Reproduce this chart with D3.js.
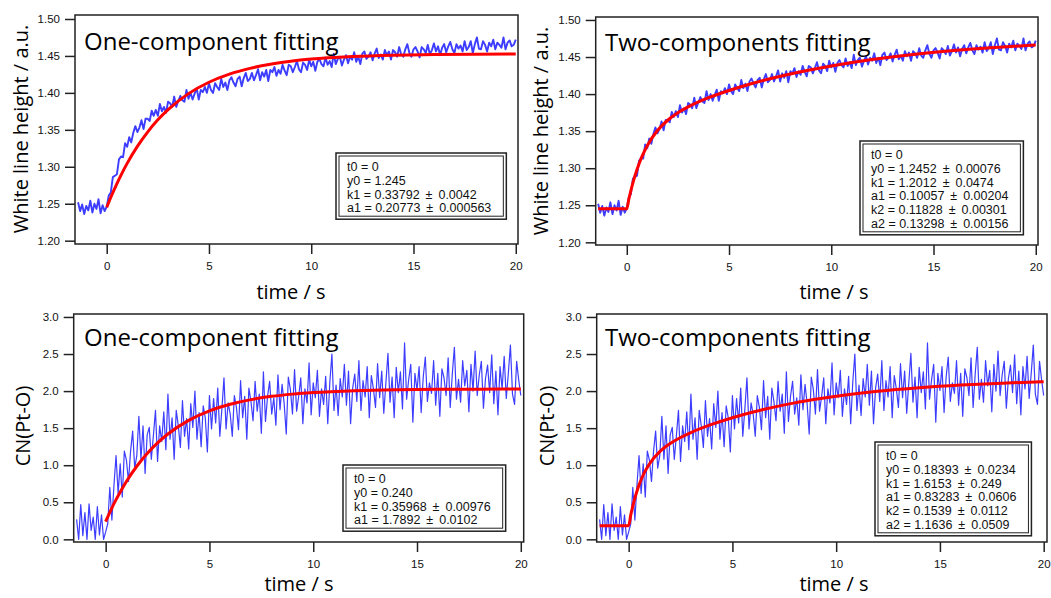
<!DOCTYPE html>
<html>
<head>
<meta charset="utf-8">
<script src="https://cdn.jsdelivr.net/npm/d3@7"></script>
<style>
  body { margin: 0; background: #fff; }
  svg text { font-family: "Liberation Sans", Arial, sans-serif; }
</style>
</head>
<body>
<div id="chart"></div>
<script>
// sampling of the measured traces
const timeStart = -1.4, timeStep = 0.1;

// white line height (a.u.), t = -1.4 ... 20 s
const whiteLine = [
  1.252,1.240,1.249,1.236,1.247,1.241,1.254,1.238,1.250,1.243,1.256,1.237,1.248,1.240,1.246,
  1.261,1.265,1.286,1.288,1.290,1.310,1.314,1.313,1.332,1.327,
  1.340,1.333,1.346,1.355,1.347,1.353,1.363,1.351,1.365,1.365,
  1.362,1.376,1.369,1.377,1.369,1.385,1.375,1.381,1.373,1.388,
  1.386,1.381,1.395,1.381,1.389,1.396,1.390,1.388,1.404,1.392,
  1.400,1.391,1.399,1.406,1.391,1.404,1.401,1.408,1.400,1.413,
  1.404,1.400,1.413,1.408,1.404,1.419,1.408,1.414,1.404,1.417,
  1.421,1.414,1.409,1.419,1.422,1.409,1.420,1.427,1.416,1.419,
  1.427,1.417,1.424,1.432,1.417,1.428,1.422,1.431,1.416,1.431,
  1.428,1.435,1.423,1.431,1.426,1.438,1.430,1.424,1.438,1.436,
  1.428,1.435,1.443,1.432,1.428,1.441,1.438,1.431,1.445,1.436,
  1.442,1.430,1.442,1.446,1.439,1.436,1.448,1.438,1.443,1.435,
  1.453,1.439,1.446,1.449,1.437,1.445,1.451,1.440,1.449,1.445,
  1.455,1.442,1.449,1.439,1.453,1.456,1.446,1.449,1.455,1.444,
  1.453,1.460,1.447,1.452,1.445,1.458,1.451,1.456,1.445,1.458,
  1.455,1.449,1.462,1.452,1.449,1.459,1.466,1.454,1.449,1.459,
  1.462,1.456,1.448,1.462,1.459,1.454,1.465,1.452,1.458,1.467,
  1.456,1.463,1.451,1.461,1.466,1.455,1.463,1.469,1.459,1.454,
  1.466,1.460,1.464,1.456,1.470,1.458,1.462,1.470,1.454,1.466,
  1.475,1.460,1.459,1.470,1.465,1.456,1.468,1.463,1.472,1.459,
  1.468,1.465,1.461,1.475,1.459,1.468,1.471,1.463,1.465,1.472
];

// CN(Pt-O), t = -1.4 ... 20 s
const cnPtO = [
  0.27,0.00,0.47,0.05,0.36,0.00,0.48,0.12,0.30,0.00,0.44,0.06,0.33,0.00,0.10,
  0.21,0.70,0.26,0.73,1.13,0.62,1.02,0.57,1.19,1.07,
  0.78,1.19,1.46,0.96,1.13,1.66,1.08,1.53,0.89,1.41,
  1.51,1.08,1.40,1.74,1.05,1.53,1.32,1.72,1.21,1.96,
  1.35,1.64,1.08,1.74,1.53,1.24,1.87,1.39,1.63,1.22,
  1.83,1.51,2.00,1.35,1.71,1.25,1.80,1.64,1.18,1.94,
  1.49,1.90,1.57,2.04,1.39,1.76,2.18,1.49,1.84,1.69,
  1.39,1.94,1.78,1.48,2.14,1.64,1.93,1.35,2.04,1.86,
  1.60,2.13,1.73,1.96,1.43,2.26,1.59,1.93,2.13,1.69,
  1.91,1.54,2.22,1.75,2.09,1.83,1.42,2.19,2.02,1.69,
  2.29,1.73,1.93,2.18,1.56,2.03,1.84,2.38,1.68,2.11,
  1.91,2.28,1.66,2.03,1.82,2.20,1.56,2.12,2.50,1.74,
  2.08,1.67,2.17,1.92,2.36,1.81,2.27,1.56,2.04,2.23,
  1.86,2.41,1.74,2.14,1.92,2.33,1.64,2.21,2.03,1.78,
  2.37,1.91,2.27,1.70,2.11,2.51,1.85,2.19,1.64,2.32,
  1.98,2.26,1.76,2.65,1.89,2.16,2.36,1.58,2.24,2.01,
  2.33,1.71,2.19,2.46,1.86,2.11,1.97,2.41,1.81,2.24,
  1.66,2.30,2.18,1.94,2.45,1.78,2.23,2.59,1.89,2.16,
  1.85,2.41,2.07,2.28,1.72,2.36,2.00,2.54,1.94,2.22,
  2.40,1.77,2.17,2.35,1.98,2.49,1.83,2.27,1.68,2.33,
  2.03,2.47,1.90,2.24,2.62,1.96,1.82,2.40,2.15,1.94
];

// fitted curves
const fitTime1 = [0,0.25,0.5,0.75,1,1.5,2,2.5,3,4,5,6,7,8,9,10,12,14,16,18,20];
const whiteFit1 = [1.2450,1.2618,1.2773,1.2915,1.3046,1.3276,1.3470,1.3635,1.3773,1.3990,1.4144,
  1.4254,1.4332,1.4388,1.4428,1.4457,1.4491,1.4509,1.4518,1.4523,1.4525];
const cnFit1 = [0.240,0.394,0.535,0.663,0.781,0.986,1.158,1.301,1.421,1.605,1.733,
  1.822,1.885,1.929,1.959,1.980,2.005,2.018,2.024,2.026,2.028];

const fitTime2 = [-1.4,0,0.1,0.2,0.3,0.5,0.75,1,1.5,2,2.5,3,4,5,6,7,8,9,10,12,14,16,18,20];
const whiteFit2 = [1.2452,1.2452,1.2581,1.2698,1.2803,1.2982,1.3162,1.3304,1.3508,1.3647,1.3748,1.3827,
  1.3951,1.4049,1.4133,1.4206,1.4271,1.4329,1.4380,1.4466,1.4534,1.4587,1.4629,1.4663];
const cnFit2 = [0.184,0.184,0.326,0.449,0.556,0.732,0.896,1.017,1.183,1.292,1.374,1.441,
  1.550,1.641,1.718,1.784,1.841,1.889,1.931,1.997,2.045,2.081,2.107,2.127];

// tick labels
const timeTicks = [0, 5, 10, 15, 20];
const whiteTicks = [1.20, 1.25, 1.30, 1.35, 1.40, 1.45, 1.50];
const cnTicks = [0.0, 0.5, 1.0, 1.5, 2.0, 2.5, 3.0];

// fit result boxes
const pm = " \u2009\u00b1\u2009 ";
const paramsWhite1 = ["t0 = 0", "y0 = 1.245", "k1 = 0.33792" + pm + "0.0042", "a1 = 0.20773" + pm + "0.000563"];
const paramsWhite2 = ["t0 = 0", "y0 = 1.2452" + pm + "0.00076", "k1 = 1.2012" + pm + "0.0474",
  "a1 = 0.10057" + pm + "0.00204", "k2 = 0.11828" + pm + "0.00301", "a2 = 0.13298" + pm + "0.00156"];
const paramsCn1 = ["t0 = 0", "y0 = 0.240", "k1 = 0.35968" + pm + "0.00976", "a1 = 1.7892" + pm + "0.0102"];
const paramsCn2 = ["t0 = 0", "y0 = 0.18393" + pm + "0.0234", "k1 = 1.6153" + pm + "0.249",
  "a1 = 0.83283" + pm + "0.0606", "k2 = 0.1539" + pm + "0.0112", "a2 = 1.1636" + pm + "0.0509"];

const width = 1051, height = 598;

const svg = d3.select("#chart")
  .append("svg")
  .attr("width", width)
  .attr("height", height);

const panels = [
  { frame: { left: 75, top: 15, right: 518, bottom: 244 },
    xDomain: [-1.55, 20.11], yDomain: [1.1955, 1.5054],
    yTicks: whiteTicks, yFmt: ".2f", data: whiteLine, dataWidth: 1.9,
    fitT: fitTime1, fitY: whiteFit1, params: paramsWhite1,
    title: "One-component fitting", titlePos: [84, 50], box: [336, 153],
    yLabel: "White line height / a.u.", yLabelPos: [20, 129], xLabelPos: [291, 299] },
  { frame: { left: 595.7, top: 17, right: 1038, bottom: 245 },
    xDomain: [-1.52, 20.11], yDomain: [1.1964, 1.504],
    yTicks: whiteTicks, yFmt: ".2f", data: whiteLine, dataWidth: 1.9,
    fitT: fitTime2, fitY: whiteFit2, params: paramsWhite2,
    title: "Two-components fitting", titlePos: [605, 51], box: [860, 141],
    yLabel: "White line height / a.u.", yLabelPos: [540, 131], xLabelPos: [834, 299] },
  { frame: { left: 73.7, top: 314, right: 523.7, bottom: 542 },
    xDomain: [-1.54, 20.14], yDomain: [-0.036, 3.04],
    yTicks: cnTicks, yFmt: ".1f", data: cnPtO, dataWidth: 1.2,
    fitT: fitTime1, fitY: cnFit1, params: paramsCn1,
    title: "One-component fitting", titlePos: [84, 346], box: [343, 465],
    yLabel: "CN(Pt-O)", yLabelPos: [22, 426], xLabelPos: [299, 591] },
  { frame: { left: 596.7, top: 314, right: 1047, bottom: 542 },
    xDomain: [-1.54, 20.16], yDomain: [-0.036, 3.04],
    yTicks: cnTicks, yFmt: ".1f", data: cnPtO, dataWidth: 1.2,
    fitT: fitTime2, fitY: cnFit2, params: paramsCn2,
    title: "Two-components fitting", titlePos: [605, 346], box: [875, 442],
    yLabel: "CN(Pt-O)", yLabelPos: [546, 426], xLabelPos: [834, 591] }
];

panels.forEach(drawPanel);

function drawPanel(p) {
  const f = p.frame;
  const x = d3.scaleLinear().domain(p.xDomain).range([f.left, f.right]);
  const y = d3.scaleLinear().domain(p.yDomain).range([f.bottom, f.top]);
  const g = svg.append("g");

  // measured trace
  g.append("path")
    .datum(p.data)
    .attr("fill", "none")
    .attr("stroke", "#3d3dff")
    .attr("stroke-width", p.dataWidth)
    .attr("stroke-linejoin", "round")
    .attr("d", d3.line()
      .x((d, i) => x(timeStart + i * timeStep))
      .y(d => y(d)));

  // fit
  g.append("path")
    .datum(p.fitT.map((t, i) => [t, p.fitY[i]]))
    .attr("fill", "none")
    .attr("stroke", "#ff0000")
    .attr("stroke-width", 3)
    .attr("d", d3.line()
      .curve(d3.curveMonotoneX)
      .x(d => x(d[0]))
      .y(d => y(d[1])));

  // frame
  g.append("rect")
    .attr("x", f.left).attr("y", f.top)
    .attr("width", f.right - f.left).attr("height", f.bottom - f.top)
    .attr("fill", "none")
    .attr("stroke", "#222")
    .attr("stroke-width", 1.5);

  const yAxis = g.append("g")
    .attr("transform", `translate(${f.left},0)`)
    .call(d3.axisLeft(y).tickValues(p.yTicks).tickFormat(d3.format(p.yFmt)).tickSize(10).tickPadding(5));
  const xAxis = g.append("g")
    .attr("transform", `translate(0,${f.bottom})`)
    .call(d3.axisBottom(x).tickValues(timeTicks).tickSize(10).tickPadding(8));
  [yAxis, xAxis].forEach(a => {
    a.select(".domain").remove();
    a.selectAll("line").attr("stroke", "#222").attr("stroke-width", 1.5);
    a.selectAll("text").attr("fill", "#111").style("font-size", "11.5px")
      .style("font-family", "'Liberation Sans', Arial, sans-serif");
  });

  // titles
  g.append("text")
    .attr("x", p.titlePos[0]).attr("y", p.titlePos[1])
    .style("font-family", "'Open Sans', sans-serif")
    .style("font-size", "24px")
    .text(p.title);

  g.append("text")
    .attr("x", p.xLabelPos[0]).attr("y", p.xLabelPos[1])
    .attr("text-anchor", "middle")
    .style("font-family", "'Open Sans', sans-serif")
    .style("font-size", "20px")
    .text("time / s");

  g.append("text")
    .attr("transform", `translate(${p.yLabelPos[0]},${p.yLabelPos[1]}) rotate(-90)`)
    .attr("text-anchor", "middle")
    .attr("dominant-baseline", "central")
    .style("font-family", "'Open Sans', sans-serif")
    .style("font-size", "20px")
    .text(p.yLabel);

  // parameter box
  const box = g.append("g").attr("transform", `translate(${p.box[0]},${p.box[1]})`);
  const outer = box.append("rect");
  const inner = box.append("rect");
  const lines = box.append("g");
  p.params.forEach((s, i) => {
    lines.append("text")
      .attr("x", 11).attr("y", 18 + i * 13.8)
      .style("font-size", "12.5px")
      .style("white-space", "pre")
      .attr("fill", "#111")
      .text(s);
  });
  const bw = lines.node().getBBox().width + 26;
  const bh = p.params.length * 13.8 + 11;
  outer.attr("width", bw).attr("height", bh)
    .attr("fill", "#fff").attr("stroke", "#222").attr("stroke-width", 1.5);
  inner.attr("x", 3).attr("y", 3).attr("width", bw - 6).attr("height", bh - 6)
    .attr("fill", "none").attr("stroke", "#222").attr("stroke-width", 1);
}
</script>
</body>
</html>
